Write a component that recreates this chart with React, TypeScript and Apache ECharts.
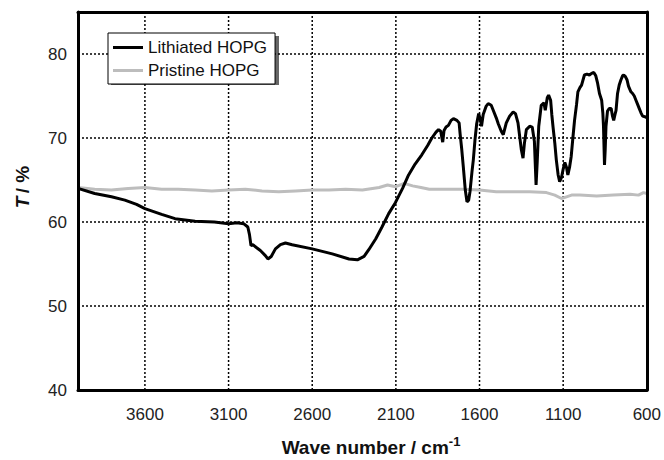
import React, { useEffect, useRef } from "react";
import * as echarts from "echarts";

const X_MIN = 600;
const X_MAX = 4000;
const Y_MIN = 40;
const Y_MAX = 85;
const xGridValues = [3600, 3100, 2600, 2100, 1600, 1100];
const yGridValues = [50, 60, 70, 80];

const lithiatedX = [
  4000, 3900, 3800, 3720, 3650, 3600, 3500, 3420, 3300, 3185, 3100, 3050, 3010, 2985, 2975, 2966,
  2955, 2930, 2910, 2880, 2865, 2845, 2820, 2790, 2760, 2720, 2600, 2480, 2380, 2330, 2290, 2262,
  2220, 2183, 2143, 2103, 2060, 2024, 1985, 1945, 1910, 1885, 1860, 1845, 1832, 1820, 1812, 1800,
  1786, 1770, 1756, 1735, 1722, 1716, 1706, 1697, 1685, 1675, 1665, 1657, 1645, 1637, 1627, 1617,
  1605, 1595, 1588, 1578, 1560, 1548, 1530, 1518, 1500, 1488, 1470, 1458, 1440, 1420, 1399, 1385,
  1370, 1360, 1350, 1340, 1332, 1320, 1300, 1285, 1272, 1262, 1255, 1246, 1231, 1215, 1207, 1195,
  1187, 1175, 1168, 1161, 1150, 1141, 1130, 1121, 1110, 1101, 1090, 1080, 1072, 1062, 1052, 1042,
  1032, 1020, 1012, 1000, 990, 973, 958, 943, 930, 917, 905, 895, 883, 870, 863, 859, 853, 849,
  844, 835, 825, 813, 805, 798, 790, 784, 775, 765, 755, 745, 738, 728, 718, 710, 704, 695, 685,
  675, 665, 655, 645, 635, 625, 607, 600,
];
const lithiatedY = [
  64.0, 63.4, 63.0, 62.6, 62.1, 61.6, 60.9, 60.4, 60.1, 60.0, 59.8, 59.9, 59.8, 59.4, 58.5, 57.2,
  57.3, 56.9, 56.6, 56.0, 55.6, 55.9, 56.8, 57.3, 57.5, 57.3, 56.8, 56.2, 55.6, 55.5, 55.9, 56.7,
  58.0, 59.4, 61.0, 62.3, 64.0, 65.6, 66.9, 68.0, 69.1, 70.0, 70.7, 71.0, 70.8, 69.5, 70.9, 71.3,
  71.5, 72.1, 72.3, 72.1, 71.8, 70.5, 68.6, 66.6, 63.8, 62.4, 62.6, 63.6, 66.0, 67.4, 69.8, 71.7,
  72.9, 72.2, 71.4, 72.8, 73.8, 74.1, 73.9, 73.3, 72.4, 71.7, 70.8, 70.4, 71.8, 72.6, 73.1, 72.9,
  71.8, 70.2, 68.6, 67.6, 69.3, 71.0, 71.4, 71.3, 69.6, 64.4, 67.2, 71.4, 73.9, 74.2, 73.3, 74.8,
  75.1, 74.5, 72.8, 71.4, 69.4, 67.4, 65.6, 64.8, 65.3, 66.2, 67.1, 66.5, 65.6, 66.5, 67.8, 70.0,
  72.1, 74.0, 75.5, 76.0, 76.3, 77.5, 77.6, 77.5, 77.7, 77.8, 77.4, 76.6, 75.3, 74.5, 73.0, 71.4,
  66.8, 68.5, 71.4, 73.2, 73.5, 73.5, 72.6, 72.1, 72.8, 73.3, 75.3, 76.3, 76.9, 77.4, 77.5, 77.3,
  76.9, 76.2, 75.9, 75.5, 75.3, 75.0, 74.5, 74.0, 73.5, 73.0, 72.6, 72.5, 72.4,
];

const pristineX = [
  4000, 3900, 3800, 3700, 3600, 3500, 3400, 3300, 3200, 3100, 3000, 2900, 2800, 2700, 2600, 2500,
  2400, 2300, 2200, 2150, 2100, 2050, 2000, 1950, 1900, 1800, 1700, 1600, 1500, 1400, 1300, 1200,
  1150, 1110, 1080, 1050, 1000, 900, 800, 700, 650, 620, 600,
];
const pristineY = [
  64.1, 63.9, 63.8, 64.0, 64.1, 63.9, 63.9, 63.8, 63.7, 63.8, 63.9, 63.7, 63.6, 63.7, 63.8, 63.8,
  63.9, 63.8, 64.1, 64.4, 64.2, 64.6, 64.3, 64.1, 63.9, 63.9, 63.9, 63.8, 63.6, 63.6, 63.6, 63.5,
  63.2, 62.8, 63.0, 63.2, 63.2, 63.1, 63.2, 63.3, 63.2, 63.5, 63.4,
];

const seriesNames = ["Lithiated HOPG", "Pristine HOPG"];

const FONT = "'Liberation Sans', Arial, Helvetica, sans-serif";

export default function App() {
  const ref = useRef<HTMLDivElement>(null);
  useEffect(() => {
    if (!ref.current) return;
    document.body.style.margin = "0";
    const chart = echarts.init(ref.current, undefined, { renderer: "svg" });
    const zip = (xs: number[], ys: number[]) => xs.map((x, i) => [x, ys[i]]);
    const frameAxisLine = { show: true, onZero: false, lineStyle: { color: "#000", width: 3 } };
    chart.setOption({
      animation: false,
      grid: { left: 78, right: 16, top: 12, bottom: 70 },
      legend: {
        orient: "vertical",
        left: 108,
        top: 33,
        data: seriesNames,
        icon: "rect",
        itemWidth: 30,
        itemHeight: 3,
        itemGap: 6,
        padding: [6, 8, 5, 5],
        backgroundColor: "#fff",
        borderColor: "#000",
        borderWidth: 1,
        textStyle: { fontSize: 17, color: "#111", fontFamily: FONT },
        z: 10,
      },
      xAxis: [
        {
          type: "value",
          inverse: true,
          min: X_MIN,
          max: X_MAX,
          interval: 500,
          axisLine: frameAxisLine,
          axisTick: { show: false },
          axisLabel: {
            fontSize: 17,
            color: "#222",
            fontFamily: FONT,
            margin: 16,
            showMaxLabel: false,
            showMinLabel: true,
            formatter: (v: number) => String(v),
          },
          splitLine: { show: false },
          z: 5,
        },
        {
          type: "value",
          position: "top",
          inverse: true,
          min: X_MIN,
          max: X_MAX,
          interval: 500,
          axisLine: frameAxisLine,
          axisTick: { show: false },
          axisLabel: { show: false },
          splitLine: { show: false },
          z: 5,
        },
      ],
      yAxis: [
        {
          type: "value",
          min: Y_MIN,
          max: Y_MAX,
          interval: 10,
          axisLine: frameAxisLine,
          axisTick: { show: false },
          axisLabel: {
            fontSize: 17,
            color: "#222",
            fontFamily: FONT,
            margin: 11,
            showMaxLabel: false,
            formatter: (v: number) => String(v),
          },
          splitLine: { show: false },
          z: 5,
        },
        {
          type: "value",
          position: "right",
          min: Y_MIN,
          max: Y_MAX,
          interval: 10,
          axisLine: frameAxisLine,
          axisTick: { show: false },
          axisLabel: { show: false },
          splitLine: { show: false },
          z: 5,
        },
      ],
      series: [
        {
          name: seriesNames[1],
          type: "line",
          data: zip(pristineX, pristineY),
          showSymbol: false,
          symbol: "none",
          lineStyle: { color: "#bdbdbd", width: 3 },
          itemStyle: { color: "#bdbdbd" },
          z: 2,
        },
        {
          name: seriesNames[0],
          type: "line",
          data: zip(lithiatedX, lithiatedY),
          showSymbol: false,
          symbol: "none",
          lineStyle: { color: "#000", width: 3 },
          itemStyle: { color: "#000" },
          z: 3,
        },
      ],
    });

    // dotted grid lines, positioned through the chart's own scales
    const toPx = (p: number[]) => chart.convertToPixel({ xAxisIndex: 0, yAxisIndex: 0 }, p) as number[];
    const segs: any[] = [];
    const addDotted = (p0: number[], p1: number[]) => {
      const dx = p1[0] - p0[0];
      const dy = p1[1] - p0[1];
      const len = Math.hypot(dx, dy);
      if (!isFinite(len) || len <= 0) return;
      for (let s = 0; s < len; s += 4) {
        const e = Math.min(s + 2, len);
        segs.push({
          type: "line",
          silent: true,
          z: 1,
          shape: {
            x1: p0[0] + (dx * s) / len,
            y1: p0[1] + (dy * s) / len,
            x2: p0[0] + (dx * e) / len,
            y2: p0[1] + (dy * e) / len,
          },
          style: { stroke: "#000", lineWidth: 1.5 },
        });
      }
    };
    xGridValues.forEach((v) => addDotted(toPx([v, Y_MAX]), toPx([v, Y_MIN])));
    yGridValues.forEach((v) => addDotted(toPx([X_MAX, v]), toPx([X_MIN, v])));

    chart.setOption({
      graphic: {
        elements: [
          {
            type: "group",
            silent: true,
            z: 1,
            children: segs,
          },
          {
            type: "rect",
            silent: true,
            z: 9,
            shape: { x: 111, y: 36, width: 168, height: 49 },
            style: { fill: "rgba(0,0,0,0.6)" },
          },
          {
            type: "text",
            x: 22,
            y: 187,
            rotation: Math.PI / 2,
            z: 10,
            style: {
              text: "{i|T} {b|/ %}",
              align: "center",
              verticalAlign: "middle",
              rich: {
                i: { fontSize: 19, fontWeight: "bold", fontStyle: "italic", fontFamily: FONT, fill: "#111" },
                b: { fontSize: 19, fontWeight: "bold", fontFamily: FONT, fill: "#111" },
              },
            },
          },
          {
            type: "text",
            x: 371,
            y: 446,
            z: 10,
            style: {
              text: "{b|Wave number / cm}{s|-1}",
              align: "center",
              verticalAlign: "middle",
              rich: {
                b: { fontSize: 19, fontWeight: "bold", fontFamily: FONT, fill: "#111", lineHeight: 22, verticalAlign: "bottom" },
                s: { fontSize: 13, fontWeight: "bold", fontFamily: FONT, fill: "#111", lineHeight: 22, verticalAlign: "top", padding: [0, 0, 10, 0] },
              },
            },
          },
        ],
      },
    });
    return () => chart.dispose();
  }, []);
  return <div ref={ref} style={{ width: 664, height: 460 }} />;
}
